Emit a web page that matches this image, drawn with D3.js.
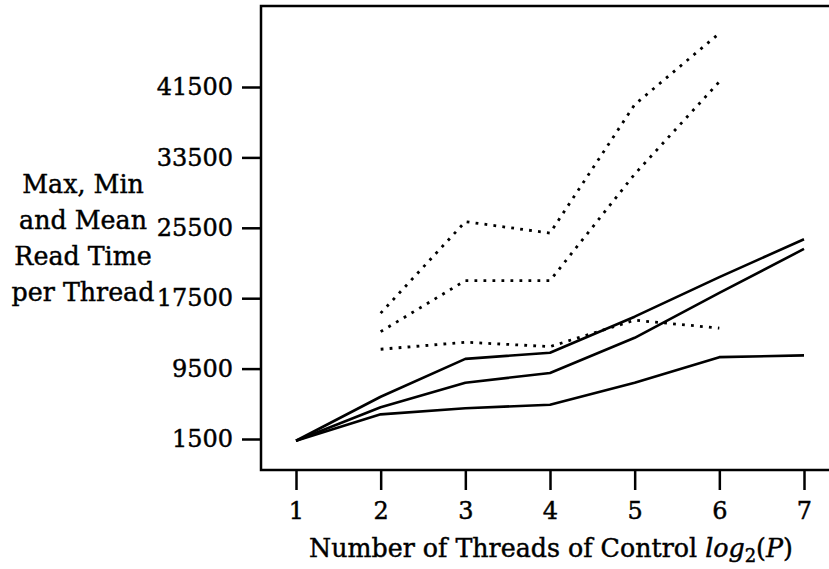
<!DOCTYPE html>
<html>
<head>
<meta charset="utf-8">
<script src="https://cdn.jsdelivr.net/npm/d3@7"></script>
<style>
  html, body { margin: 0; padding: 0; background: #fff; }
  svg { display: block; }
  text { font-family: "DejaVu Serif", "Liberation Serif", serif; fill: #000; }
</style>
</head>
<body>
<svg id="chart" width="829" height="569"></svg>
<script>
// ---- data ----
const threadsLog2 = [1, 2, 3, 4, 5, 6, 7];
const solidMax  = [1300, 6300, 10600, 11300, 15400, 19900, 24200];
const solidMean = [1300, 5100, 7900, 9000, 13000, 18100, 23100];
const solidMin  = [1300, 4300, 5000, 5400, 7900, 10800, 11000];

const dottedThreads = [2, 3, 4, 5, 6];
const dottedMax  = [15800, 26200, 24900, 39500, 47600];
const dottedMean = [13700, 19500, 19500, 31600, 42100];
const dottedMin  = [11700, 12500, 12000, 15000, 14100];

const yTicks = [1500, 9500, 17500, 25500, 33500, 41500];
const xTicks = [1, 2, 3, 4, 5, 6, 7];
const yTitleLines = ["Max, Min", "and Mean", "Read Time", "per Thread"];

// ---- layout ----
const svg = d3.select("#chart");
const frame = { left: 261, top: 6, right: 829, bottom: 470 };

const x = d3.scaleLinear().domain([1, 7]).range([296, 804]);
const y = d3.scaleLinear().domain([1500, 41500]).range([439, 87]);

const textStroke = (sel) => sel.attr("stroke", "#000").attr("stroke-width", 0.45);

// frame (open on the right)
svg.append("path")
  .attr("d", `M${frame.right},${frame.top}H${frame.left}V${frame.bottom}H${frame.right}`)
  .attr("fill", "none").attr("stroke", "#000").attr("stroke-width", 2.5);

// y axis
const yAxis = d3.axisLeft(y).tickValues(yTicks).tickSize(19).tickPadding(9)
  .tickFormat(d3.format("d"));
const gy = svg.append("g").attr("transform", `translate(${frame.left},0)`).call(yAxis);
gy.select(".domain").remove();
gy.selectAll(".tick line").attr("stroke", "#000").attr("stroke-width", 2.5);
gy.selectAll(".tick text").attr("font-size", 24).attr("font-family", "DejaVu Serif")
  .attr("fill", "#000").call(textStroke);

// x axis
const xAxis = d3.axisBottom(x).tickValues(xTicks).tickSize(20).tickPadding(12)
  .tickFormat(d3.format("d"));
const gx = svg.append("g").attr("transform", `translate(0,${frame.bottom})`).call(xAxis);
gx.select(".domain").remove();
gx.selectAll(".tick line").attr("stroke", "#000").attr("stroke-width", 2.5);
gx.selectAll(".tick text").attr("font-size", 24).attr("font-family", "DejaVu Serif")
  .attr("fill", "#000").call(textStroke);

// lines
const line = (xs) => d3.line().x((d, i) => x(xs[i])).y(d => y(d));

[solidMax, solidMean, solidMin].forEach(s => {
  svg.append("path").datum(s)
    .attr("d", line(threadsLog2))
    .attr("fill", "none").attr("stroke", "#000").attr("stroke-width", 2.6)
    .attr("stroke-linejoin", "round");
});

[dottedMax, dottedMean, dottedMin].forEach(s => {
  svg.append("path").datum(s)
    .attr("d", line(dottedThreads))
    .attr("fill", "none").attr("stroke", "#000").attr("stroke-width", 2.8)
    .attr("stroke-dasharray", "2.8,6.2");
});

// y title
const yt = svg.append("text").attr("text-anchor", "middle").attr("font-size", 25.3)
  .call(textStroke);
yTitleLines.forEach((t, i) => {
  yt.append("tspan").attr("x", 83).attr("y", 193 + i * 36).text(t);
});

// x title
const xt = svg.append("text").attr("text-anchor", "middle")
  .attr("x", 551).attr("y", 557).attr("font-size", 25.3).call(textStroke);
xt.append("tspan").text("Number of Threads of Control ");
xt.append("tspan").attr("font-style", "italic").text("log");
xt.append("tspan").attr("font-size", 18).attr("dy", 5).text("2");
xt.append("tspan").attr("dy", -5).text("(");
xt.append("tspan").attr("font-style", "italic").text("P");
xt.append("tspan").text(")");
</script>
</body>
</html>
